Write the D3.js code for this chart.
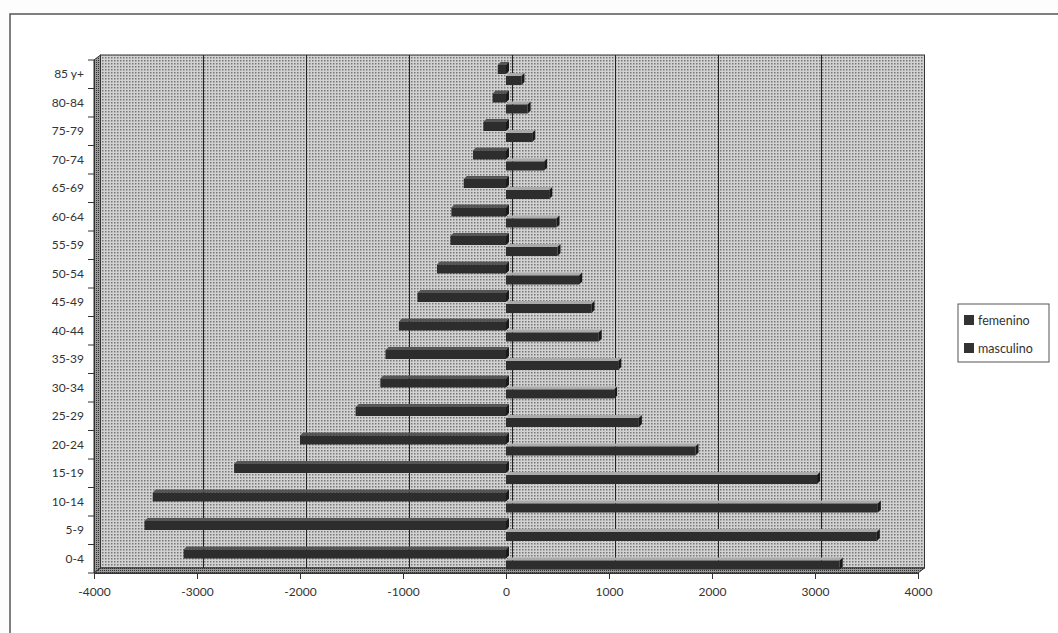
<!DOCTYPE html>
<html>
<head>
<meta charset="utf-8">
<script src="https://cdn.jsdelivr.net/npm/d3@7"></script>
<style>
    html, body { margin: 0; background: #fdfdfd; overflow: hidden; }
    svg { display: block; }
    text { font-family: Lato, "Open Sans", sans-serif; fill: #333; }
</style>
</head>
<body>
<div id="chart"></div>
<script>

// age groups, top to bottom
let categories = ["85 y+", "80-84", "75-79", "70-74", "65-69", "60-64", "55-59", "50-54", "45-49",
    "40-44", "35-39", "30-34", "25-29", "20-24", "15-19", "10-14", "5-9", "0-4"];

let femenino = [-80, -130, -220, -320, -410, -530, -540, -670, -860,
    -1040, -1170, -1220, -1460, -2000, -2640, -3430, -3510, -3130];

let masculino = [150, 210, 255, 370, 420, 490, 500, 710, 830,
    900, 1090, 1050, 1290, 1840, 3020, 3610, 3600, 3240];

let xTicks = [-4000, -3000, -2000, -1000, 0, 1000, 2000, 3000, 4000];
let seriesNames = ["femenino", "masculino"];

class cPyramid {

    constructor(_parentElement) {
        this.parentElement = _parentElement;
        this.initVis();
    }

    initVis() {
        let vis = this;

        vis.svg = d3.select("#" + vis.parentElement).append("svg")
            .attr("width", 1058)
            .attr("height", 633);

        // dotted fills like the old print
        let defs = vis.svg.append("defs");
        let p = defs.append("pattern").attr("id", "dots")
            .attr("width", 3).attr("height", 3).attr("patternUnits", "userSpaceOnUse");
        p.append("rect").attr("width", 3).attr("height", 3).attr("fill", "#d2d2d2");
        p.append("rect").attr("width", 1.5).attr("height", 1.5).attr("fill", "#777");
        let p2 = defs.append("pattern").attr("id", "dotsDark")
            .attr("width", 2).attr("height", 2).attr("patternUnits", "userSpaceOnUse");
        p2.append("rect").attr("width", 2).attr("height", 2).attr("fill", "#9a9a9a");
        p2.append("rect").attr("width", 1).attr("height", 1).attr("fill", "#333");

        // frame
        vis.svg.append("rect")
            .attr("x", 10).attr("y", 14).attr("width", 1100).attr("height", 640)
            .attr("fill", "#fff").attr("stroke", "#555").attr("stroke-width", 1.5);

        // depth of the 3d box
        vis.dx = 6.5;
        vis.dy = -5;

        vis.x = d3.scaleLinear().domain([-4000, 4000]).range([94, 918]);
        vis.y = d3.scaleBand().domain(categories).range([60, 573]);

        let x = vis.x, y = vis.y, dx = vis.dx, dy = vis.dy;
        let top = 60, bottom = 573;

        // back wall
        vis.svg.append("rect")
            .attr("x", x(-4000) + dx).attr("y", top + dy)
            .attr("width", x(4000) - x(-4000)).attr("height", bottom - top)
            .attr("fill", "url(#dots)").attr("stroke", "#333").attr("stroke-width", 1);

        // left wall
        vis.svg.append("polygon")
            .attr("points", [[x(-4000), top], [x(-4000) + dx, top + dy],
                [x(-4000) + dx, bottom + dy], [x(-4000), bottom]].join(" "))
            .attr("fill", "url(#dotsDark)").attr("stroke", "#333").attr("stroke-width", 1);

        // floor
        vis.svg.append("polygon")
            .attr("points", [[x(-4000), bottom], [x(-4000) + dx, bottom + dy],
                [x(4000) + dx, bottom + dy], [x(4000), bottom]].join(" "))
            .attr("fill", "url(#dotsDark)").attr("stroke", "#333").attr("stroke-width", 1);

        // gridlines on back wall
        vis.svg.selectAll(".grid")
            .data(xTicks.slice(1, -1))
            .enter().append("line")
            .attr("class", "grid")
            .attr("x1", d => x(d) + dx).attr("x2", d => x(d) + dx)
            .attr("y1", top + dy).attr("y2", bottom + dy)
            .attr("stroke", "#222").attr("stroke-width", 1);

        // y axis
        vis.yAxis = d3.axisLeft(y).tickSize(0).tickPadding(10);
        let gy = vis.svg.append("g")
            .attr("transform", "translate(" + x(-4000) + ",0)")
            .call(vis.yAxis);
        gy.select(".domain").attr("stroke", "#333");
        gy.selectAll("text").style("font-size", "12px").attr("fill", "#333");

        // category separators on the y axis
        vis.svg.selectAll(".ytick")
            .data(categories.concat(["end"]))
            .enter().append("line")
            .attr("x1", x(-4000) - 6).attr("x2", x(-4000))
            .attr("y1", (d, i) => top + i * y.step())
            .attr("y2", (d, i) => top + i * y.step())
            .attr("stroke", "#333");

        // x axis
        vis.xAxis = d3.axisBottom(x).tickValues(xTicks).tickSize(6).tickPadding(8).tickFormat(d => String(d));
        let gx = vis.svg.append("g")
            .attr("transform", "translate(0," + bottom + ")")
            .call(vis.xAxis);
        gx.select(".domain").attr("stroke", "#333");
        gx.selectAll("line").attr("stroke", "#333");
        gx.selectAll("text").style("font-size", "12px").attr("fill", "#333");

        // bars
        vis.barData = [];
        categories.forEach((c, i) => {
            vis.barData.push({ category: c, value: femenino[i], s: 0 });
            vis.barData.push({ category: c, value: masculino[i], s: 1 });
        });

        let bh = 9, bdx = 3, bdy = -3;
        let bars = vis.svg.selectAll(".bar")
            .data(vis.barData)
            .enter().append("g")
            .attr("class", "bar");

        let geo = d => {
            let x0 = x(Math.min(d.value, 0)), x1 = x(Math.max(d.value, 0));
            let y0 = y(d.category) + (d.s === 0 ? 5 : 16);
            return { x0, x1, y0 };
        };

        bars.append("polygon")   // top face
            .attr("points", d => {
                let g = geo(d);
                return [[g.x0, g.y0], [g.x1, g.y0], [g.x1 + bdx, g.y0 + bdy], [g.x0 + bdx, g.y0 + bdy]].join(" ");
            })
            .attr("fill", d => d.s === 0 ? "#555" : "#aaa");

        bars.append("polygon")   // side face
            .attr("points", d => {
                let g = geo(d);
                return [[g.x1, g.y0], [g.x1 + bdx, g.y0 + bdy], [g.x1 + bdx, g.y0 + bdy + bh], [g.x1, g.y0 + bh]].join(" ");
            })
            .attr("fill", "#1a1a1a");

        bars.append("rect")      // front face
            .attr("x", d => geo(d).x0)
            .attr("y", d => geo(d).y0)
            .attr("width", d => geo(d).x1 - geo(d).x0)
            .attr("height", bh)
            .attr("fill", "#2d2d2d");

        // legend
        let lg = vis.svg.append("g").attr("transform", "translate(958,304)");
        lg.append("rect").attr("width", 91).attr("height", 58)
            .attr("fill", "#fff").attr("stroke", "#555");
        lg.selectAll(".item")
            .data(seriesNames)
            .enter().append("g")
            .attr("transform", (d, i) => "translate(6," + (11 + i * 28) + ")")
            .each(function (d) {
                d3.select(this).append("rect").attr("width", 10).attr("height", 10).attr("fill", "#333");
                d3.select(this).append("text").attr("x", 14).attr("y", 9.5)
                    .style("font-size", "12.5px").text(d);
            });
    }
}

new cPyramid("chart");
</script>
</body>
</html>
